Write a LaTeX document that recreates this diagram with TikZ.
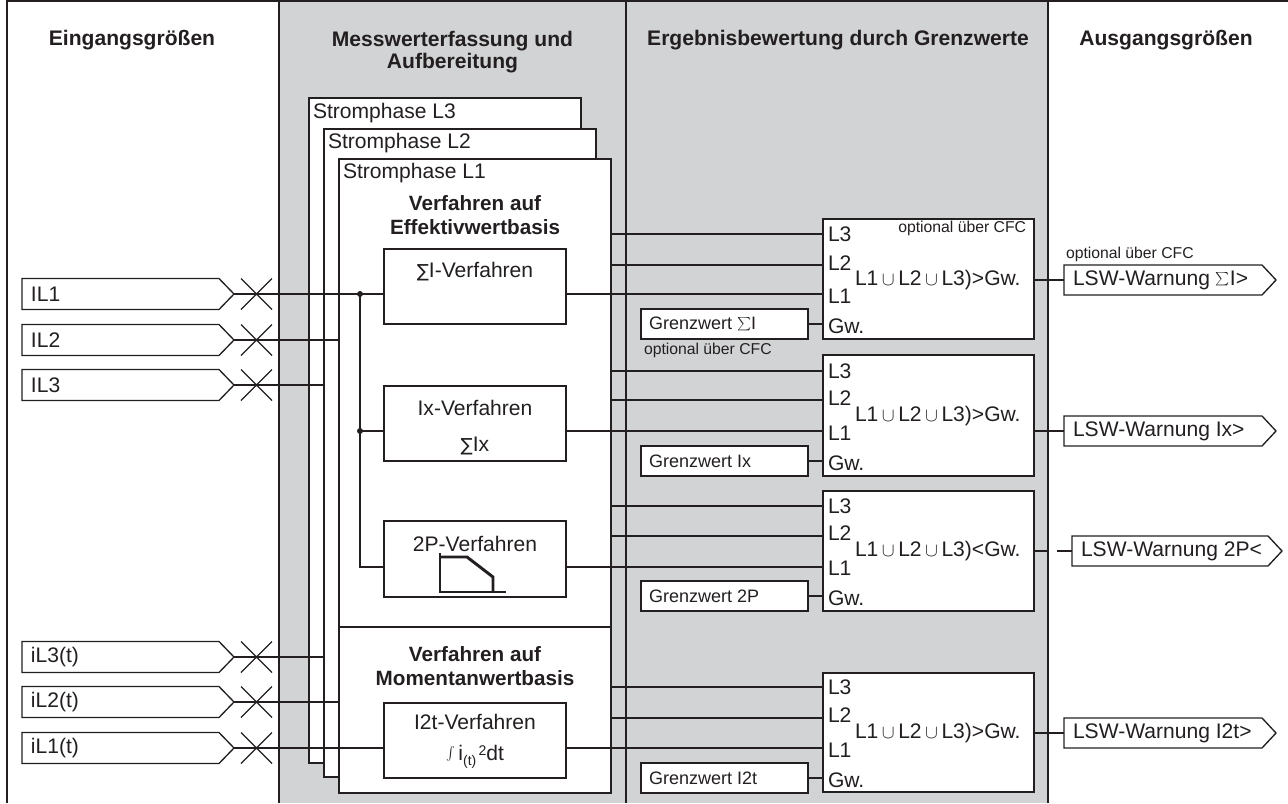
\documentclass[tikz,border=0pt]{standalone}
\usepackage{fontspec}
\setmainfont{Liberation Sans}
\newfontfamily\dejavu{DejaVu Sans}
\usetikzlibrary{fit}
\definecolor{bggray}{RGB}{209,211,212}
\definecolor{ink}{RGB}{35,31,32}
\tikzset{
  base/.style={inner sep=0pt, outer sep=0pt},
  txt/.style={base, font=\fontsize{15.8}{18}\selectfont, text=ink},
  hdr/.style={base, font=\bfseries\fontsize{15.8}{16.5}\selectfont, align=center, text=ink},
  boldt/.style={base, font=\bfseries\fontsize{15.5}{18}\selectfont, align=center, text=ink},
  small/.style={base, font=\fontsize{11.8}{13}\selectfont, text=ink},
  gwt/.style={base, font=\fontsize{13.5}{16}\selectfont, text=ink},
  frame/.style={draw=ink, line width=1pt},
  wbox/.style={base, draw=ink, fill=white, line width=1pt},
  wire/.style={draw=ink, line width=0.9pt},
  jdot/.style={circle, fill=ink, inner sep=0pt, minimum size=4.5pt},
}
\newcommand\blk[5]{\coordinate (#1-a) at (#2,#3); \coordinate (#1-b) at (#4,#5); \node[wbox, fit=(#1-a)(#1-b)] (#1) {};}
\newcommand\insig[3]{%
  \draw[frame, fill=white] (22,#2-15.5) -- (219,#2-15.5) -- (234,#2) -- (219,#2+15.5) -- (22,#2+15.5) -- cycle;
  \node[txt, anchor=west] (#1) at (31,#2) {#3};
  \coordinate (#1-tip) at (234,#2);
  \draw[wire] (241,#2-15.5) -- (272,#2+15.5) (241,#2+15.5) -- (272,#2-15.5);}
\newcommand\outsig[5]{%
  \draw[frame, fill=white] (#2,#3-15) -- (#5,#3-15) -- (#5+14,#3) -- (#5,#3+15) -- (#2,#3+15) -- cycle;
  \node[txt, anchor=west] (#1) at (#2+9,#3) {#4};
  \coordinate (#1-w) at (#2,#3);}
\newcommand\sumsym{\raisebox{1.5pt}{$\scriptstyle\sum$}}
\newcommand\uu{\,$\cup$\,}
\begin{document}
\begin{tikzpicture}[x=0.75pt,y=-0.75pt]
\useasboundingbox (0,0) rectangle (1288,803);
% backgrounds and frame
\fill[bggray] (279,1) rectangle (1048,803);
\draw[frame] (7,803) -- (7,1) -- (1288,1);
\draw[frame] (279,1) -- (279,803) (626,1) -- (626,803) (1048,1) -- (1048,803);
% headers
\node[hdr] (h1) at (132,40) {Eingangsgrößen};
\node[hdr, anchor=north] (h2) at (452.5,31) {Messwerterfassung und\\Aufbereitung};
\node[hdr] (h3) at (838,40) {Ergebnisbewertung durch Grenzwerte};
\node[hdr] (h4) at (1166,40) {Ausgangsgrößen};
% phase boxes
\blk{P3}{309}{98}{581}{763}
\blk{P2}{324}{129}{596}{777}
\blk{P1}{339}{159}{611}{793}
\node[txt, anchor=west] (t3) at (313,113) {Stromphase L3};
\node[txt, anchor=west] (t2) at (328,143) {Stromphase L2};
\node[txt, anchor=west] (t1) at (343,173) {Stromphase L1};
\draw[frame] (P1.west |- 0,627) coordinate (dv) -- (P1.east |- 0,627);
\node[boldt] (eff) at (475,215) {Verfahren auf\\Effektivwertbasis};
\node[boldt] (mom) at (475,666.5) {Verfahren auf\\Momentanwertbasis};
% inner procedure boxes
\blk{SI}{384}{249}{566}{324}
\blk{IX}{384}{386}{566}{461}
\blk{TP}{384}{521}{566}{597}
\blk{IT}{384}{703}{566}{778}
\node[txt] (siT) at (475,272) {{\dejavu\fontsize{13.5}{15}\selectfont ∑}I-Verfahren};
\node[txt] (ixT) at (475,408) {Ix-Verfahren};
\node[txt] (ixS) at (475,446) {{\dejavu\fontsize{13.5}{15}\selectfont ∑}Ix};
\node[txt] (tpT) at (475,544) {2P-Verfahren};
\draw[ink, line width=0.8pt] (440,553) -- (440,592) -- (506,592);
\draw[ink, line width=2.2pt] (440,557) -- (467,557) -- (493,577) -- (493,592);
\node[txt] (itT) at (475,722) {I2t-Verfahren};
\node[txt] (itF) at (475,757) {\raisebox{3pt}{\fontsize{7}{8}\selectfont$\int$}\,i\raisebox{-4pt}{\fontsize{10.5}{12}\selectfont(t)}\raisebox{4pt}{\fontsize{10.5}{12}\selectfont\,2}dt};
% combiner boxes
\blk{C1}{823}{219}{1034}{339}
\blk{C2}{823}{355}{1034}{476}
\blk{C3}{823}{491}{1034}{611}
\blk{C4}{823}{673}{1034}{792}
\foreach \c/\a/\b/\cc/\d/\m/\op in {C1/234/263/296/326/280/>,C2/371/398/433/463/416/>,C3/506/533/568/598/551/<,C4/687/715/750/780/733/>}{
  \node[txt, anchor=west] at (828,\a) {L3};
  \node[txt, anchor=west] at (828,\b) {L2};
  \node[txt, anchor=west] at (828,\cc) {L1};
  \node[txt, anchor=west] at (828,\d) {Gw.};
  \node[txt, anchor=west] at (855,\m) {L1\uu L2\uu L3)\op Gw.};
}
\node[small, anchor=east] (opt1) at (1026,228) {optional über CFC};
% limit boxes
\blk{G1}{641}{309}{808}{339}
\blk{G2}{641}{446}{808}{476}
\blk{G3}{641}{581}{808}{611}
\blk{G4}{641}{763}{808}{793}
\node[gwt, anchor=west] (g1t) at (649,324) {Grenzwert \sumsym I};
\node[gwt, anchor=west] (g2t) at (649,461) {Grenzwert Ix};
\node[gwt, anchor=west] (g3t) at (649,596) {Grenzwert 2P};
\node[gwt, anchor=west] (g4t) at (649,778) {Grenzwert I2t};
\node[small, anchor=west] (opt2) at (644,350) {optional über CFC};
\draw[wire] (G1.east) -- (C1.west |- G1.east);
\draw[wire] (G2.east) -- (C2.west |- G2.east);
\draw[wire] (G3.east) -- (C3.west |- G3.east);
\draw[wire] (G4.east) -- (C4.west |- G4.east);
% inputs
\insig{IL1}{294}{IL1}
\insig{IL2}{340}{IL2}
\insig{IL3}{385}{IL3}
\insig{iL3}{657}{iL3(t)}
\insig{iL2}{702}{iL2(t)}
\insig{iL1}{748}{iL1(t)}
\coordinate (bus1) at (360,294);
\coordinate (bus2) at (360,431);
\draw[wire] (IL1-tip) -- (bus1) -- (SI.west |- bus1);
\draw[wire] (bus1) -- (bus2) -- (360,567) coordinate (bus3) -- (TP.west |- bus3);
\draw[wire] (bus2) -- (IX.west |- bus2);
\node[jdot] at (bus1) {};
\node[jdot] at (bus2) {};
\draw[wire] (IL2-tip) -- (P1.west |- IL2-tip);
\draw[wire] (IL3-tip) -- (P2.west |- IL3-tip);
\draw[wire] (iL3-tip) -- (P2.west |- iL3-tip);
\draw[wire] (iL2-tip) -- (P1.west |- iL2-tip);
\draw[wire] (iL1-tip) -- (IT.west |- iL1-tip);
% procedure outputs to combiners
\draw[wire] (SI.east |- bus1) -- (C1.west |- bus1);
\draw[wire] (IX.east |- bus2) -- (C2.west |- bus2);
\draw[wire] (TP.east |- bus3) -- (C3.west |- bus3);
\draw[wire] (IT.east |- iL1-tip) -- (C4.west |- iL1-tip);
% phase lines
\foreach \yy/\cc in {234/C1,265/C1,371/C2,400/C2,506/C3,536/C3,687/C4,718/C4}{
  \draw[wire] (P1.east |- 0,\yy) -- (\cc.west |- 0,\yy);
}
% outputs
\node[small, anchor=west] (opt3) at (1066,254) {optional über CFC};
\outsig{O1}{1064}{280}{LSW-Warnung \sumsym I>}{1262}
\outsig{O2}{1064}{431}{LSW-Warnung Ix>}{1262}
\outsig{O3}{1072}{551}{LSW-Warnung 2P<}{1268}
\outsig{O4}{1064}{733}{LSW-Warnung I2t>}{1262}
\draw[wire] (C1.east |- O1-w) -- (O1-w);
\draw[wire] (C2.east |- O2-w) -- (O2-w);
\draw[wire] (C3.east |- O3-w) -- (1048,551) (1057,551) -- (O3-w);
\draw[wire] (C4.east |- O4-w) -- (O4-w);
\end{tikzpicture}
\end{document}
